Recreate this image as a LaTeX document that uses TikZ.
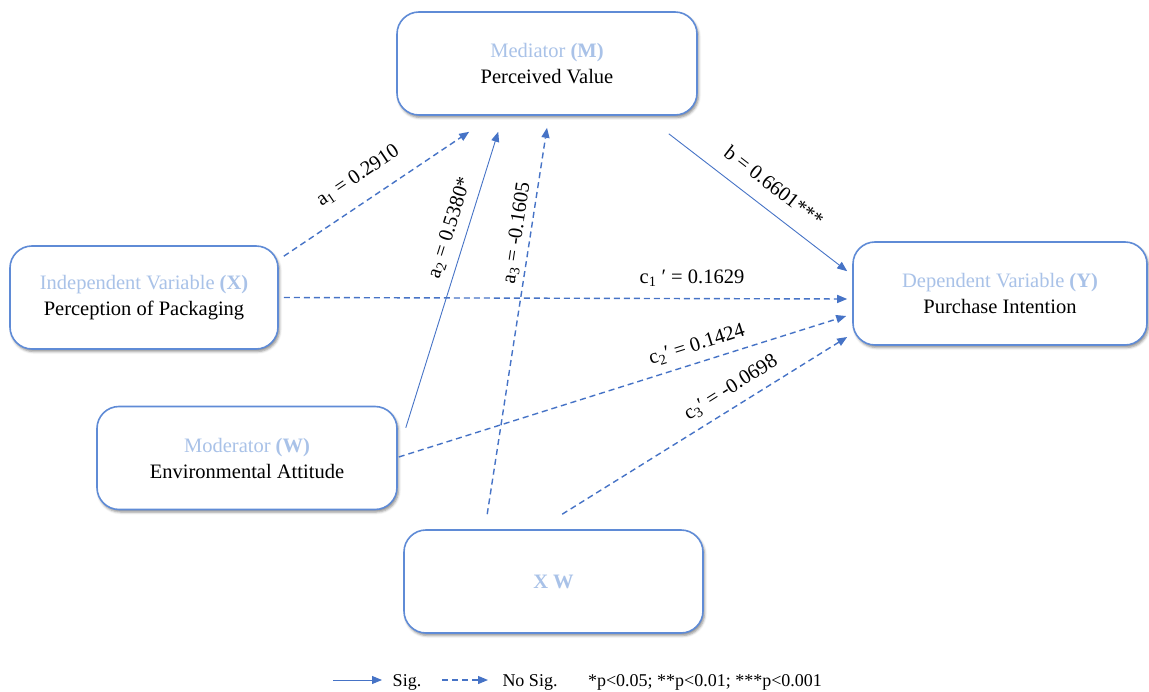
\documentclass[tikz,border=0pt]{standalone}
\usepackage{fontspec}
\setmainfont{Liberation Serif}
\usetikzlibrary{arrows.meta,shadows.blur,calc}
\definecolor{boxline}{HTML}{5F8BD6}
\definecolor{headblue}{HTML}{A9C2E8}
\definecolor{arrblue}{HTML}{4673C6}
\definecolor{solidblue}{HTML}{7099DC}
\begin{document}
\begin{tikzpicture}[x=1pt,y=-1pt,
  varbox/.style={draw=boxline, line width=1.6pt, rounded corners=22pt, fill=white,
    minimum height=103pt, align=center, inner sep=0pt,
    font=\fontsize{20.5}{26}\selectfont,
    blur shadow={shadow xshift=1.5pt, shadow yshift=-2.5pt, shadow blur radius=2.5pt, shadow opacity=45}},
  head/.style={text=headblue},
  sigline/.style={draw=solidblue, line width=0.9pt, -{Triangle[length=10pt,width=8pt]}, arrblue},
  nsline/.style={draw=arrblue, line width=1.4pt, dash pattern=on 6pt off 4pt, -{Triangle[length=10pt,width=8pt]}},
  coef/.style={font=\fontsize{20.5}{24}\selectfont, inner sep=1pt},
  legtext/.style={font=\fontsize{18}{20}\selectfont, inner sep=0pt, anchor=base}
]
\useasboundingbox (0,0) rectangle (1149,692);

% boxes
\node[varbox, minimum width=300pt] (M) at (547,63.5) {{\color{headblue}Mediator \textbf{(M)}}\\Perceived Value};
\node[varbox, minimum width=268pt] (X) at (144,297.5) {{\color{headblue}Independent Variable \textbf{(X)}}\\Perception of Packaging};
\node[varbox, minimum width=300pt] (W) at (247,458) {{\color{headblue}Moderator \textbf{(W)}}\\Environmental Attitude};
\node[varbox, minimum width=294pt] (Y) at (1000,293.5) {{\color{headblue}Dependent Variable \textbf{(Y)}}\\Purchase Intention};
\node[varbox, minimum width=299pt] (XW) at (553.5,581.5) {{\color{headblue}\textbf{X W}}};

% connectors
\draw[nsline] ([shift={(5,11)}]X.north east) -- ([shift={(73,16)}]M.south west);
\draw[sigline] ([shift={(8,22)}]W.north east) -- ([shift={(102,16)}]M.south west);
\draw[nsline] ([shift={(84,-15)}]XW.north west) -- ([shift={(0,12)}]M.south);
\draw[sigline] ([shift={(-29,18)}]M.south east) -- ([shift={(-5,30)}]Y.north west);
\draw[nsline] ([shift={(5,0)}]X.east) -- ([shift={(-5,5.5)}]Y.west);
\draw[nsline] ([shift={(1,-1)}]W.east) -- ([shift={(-6,22.5)}]Y.west);
\draw[nsline] ([shift={(159,-15)}]XW.north west) -- ([shift={(-5,43.5)}]Y.west);

% coefficient labels
\node[coef, rotate=34] (la1) at (358,176) {a\textsubscript{1} = 0.2910};
\node[coef, rotate=72.4] (la2) at (450,228) {a\textsubscript{2} = 0.5380*};
\node[coef, rotate=81.4] (la3) at (517,233) {a\textsubscript{3} = -0.1605};
\node[coef, rotate=-37.7] (lb) at (774,186) {b = 0.6601***};
\node[coef] (lc1) at (692,278) {c\textsubscript{1} ′ = 0.1629};
\node[coef, rotate=17.5] (lc2) at (697,345) {c\textsubscript{2}′ = 0.1424};
\node[coef, rotate=32.1] (lc3) at (731,388) {c\textsubscript{3}′ = -0.0698};

% legend
\coordinate (s1) at (333,680);
\coordinate (s2) at (382,680);
\coordinate (d1) at (442,680);
\coordinate (d2) at (488,680);
\draw[sigline] (s1) -- (s2);
\draw[nsline, line width=1.2pt] (d1) -- (d2);
\node[legtext] (lsig) at (407,686) {Sig.};
\node[legtext] (lns) at (530,686) {No Sig.};
\node[legtext] (lp) at (705,686) {*p<0.05; **p<0.01; ***p<0.001};
\end{tikzpicture}
\end{document}
